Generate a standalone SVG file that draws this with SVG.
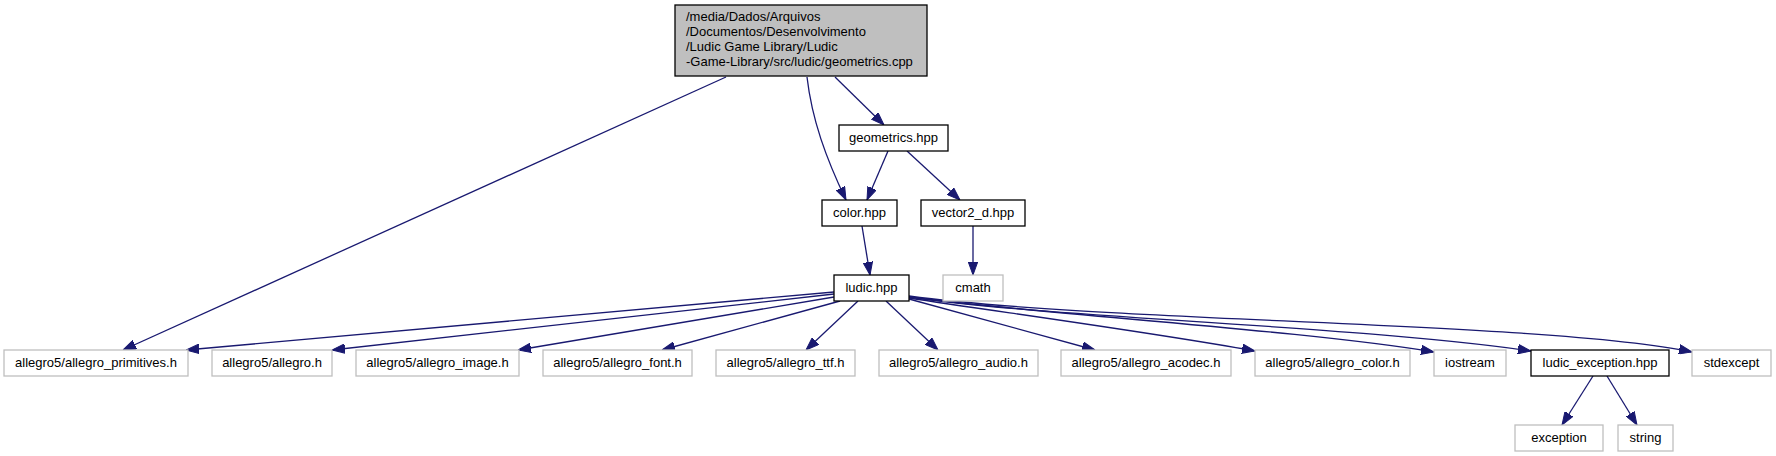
<svg xmlns="http://www.w3.org/2000/svg" width="1776" height="456" viewBox="0 0 1776 456">
<style>
  text { font-family: "Liberation Sans", Arial, sans-serif; font-size: 13px; fill: #000; }
  .c { text-anchor: middle; }
  .nb { fill: #fff; stroke: #000; stroke-width: 1.3; }
  .ng { fill: #fff; stroke: #bfbfbf; stroke-width: 1.3; }
  .nr { fill: #bfbfbf; stroke: #000; stroke-width: 1.3; }
  .e { fill: none; stroke: #191970; stroke-width: 1.3; marker-end: url(#ah); }
</style>
<defs>
  <marker id="ah" viewBox="0 0 13 10" refX="13" refY="5" markerWidth="13" markerHeight="10" orient="auto" markerUnits="userSpaceOnUse">
    <path d="M0,0.3 L13,5 L0,9.7 z" fill="#191970" stroke="#191970" stroke-width="1"/>
  </marker>
</defs>
<rect width="1776" height="456" fill="#fff"/>

<g id="edges">
  <path class="e" d="M726,77 L123,350"/>
  <path class="e" d="M807,77 C812,120 826,158 846,200"/>
  <path class="e" d="M835,77 L884,125"/>
  <path class="e" d="M888,151 L867,200"/>
  <path class="e" d="M907,151 L960,200"/>
  <path class="e" d="M862,226 L870,275"/>
  <path class="e" d="M973,226 L973,275"/>
  <path class="e" d="M834,292 L186,350"/>
  <path class="e" d="M834,294 L332,350"/>
  <path class="e" d="M834,297 L518,350"/>
  <path class="e" d="M840,301 L662,350"/>
  <path class="e" d="M858,301 L806,350"/>
  <path class="e" d="M886,301 L938,350"/>
  <path class="e" d="M909,299 L1095,350"/>
  <path class="e" d="M909,298 C1000,312 1150,332 1255,351"/>
  <path class="e" d="M909,297 C1050,315 1300,330 1434,352"/>
  <path class="e" d="M909,297 C1050,318 1350,325 1531,351"/>
  <path class="e" d="M909,296 C1100,322 1550,322 1692,352"/>
  <path class="e" d="M1593,376 L1562,425"/>
  <path class="e" d="M1607,376 L1637,425"/>
</g>

<g id="root">
  <rect class="nr" x="675" y="5" width="252" height="71"/>
  <text x="686" y="20.5">/media/Dados/Arquivos</text>
  <text x="686" y="35.5">/Documentos/Desenvolvimento</text>
  <text x="686" y="50.5">/Ludic Game Library/Ludic</text>
  <text x="686" y="65.5">-Game-Library/src/ludic/geometrics.cpp</text>
</g>
<g id="geometrics_hpp">
  <rect class="nb" x="839" y="125" width="109" height="26"/>
  <text class="c" x="893.5" y="142">geometrics.hpp</text>
</g>
<g id="color_hpp">
  <rect class="nb" x="822" y="200" width="75" height="26"/>
  <text class="c" x="859.5" y="217">color.hpp</text>
</g>
<g id="vector2_d_hpp">
  <rect class="nb" x="921" y="200" width="104" height="26"/>
  <text class="c" x="973" y="217">vector2_d.hpp</text>
</g>
<g id="ludic_hpp">
  <rect class="nb" x="834" y="275" width="75" height="26"/>
  <text class="c" x="871.5" y="292">ludic.hpp</text>
</g>
<g id="cmath">
  <rect class="ng" x="943" y="275" width="60" height="26"/>
  <text class="c" x="973" y="292">cmath</text>
</g>

<g id="allegro_primitives">
  <rect class="ng" x="4" y="350" width="184" height="26"/>
  <text class="c" x="96" y="367">allegro5/allegro_primitives.h</text>
</g>
<g id="allegro">
  <rect class="ng" x="212" y="350" width="120" height="26"/>
  <text class="c" x="272" y="367">allegro5/allegro.h</text>
</g>
<g id="allegro_image">
  <rect class="ng" x="356" y="350" width="163" height="26"/>
  <text class="c" x="437.5" y="367">allegro5/allegro_image.h</text>
</g>
<g id="allegro_font">
  <rect class="ng" x="543" y="350" width="149" height="26"/>
  <text class="c" x="617.5" y="367">allegro5/allegro_font.h</text>
</g>
<g id="allegro_ttf">
  <rect class="ng" x="716" y="350" width="139" height="26"/>
  <text class="c" x="785.5" y="367">allegro5/allegro_ttf.h</text>
</g>
<g id="allegro_audio">
  <rect class="ng" x="879" y="350" width="159" height="26"/>
  <text class="c" x="958.5" y="367">allegro5/allegro_audio.h</text>
</g>
<g id="allegro_acodec">
  <rect class="ng" x="1061" y="350" width="170" height="26"/>
  <text class="c" x="1146" y="367">allegro5/allegro_acodec.h</text>
</g>
<g id="allegro_color">
  <rect class="ng" x="1255" y="350" width="155" height="26"/>
  <text class="c" x="1332.5" y="367">allegro5/allegro_color.h</text>
</g>
<g id="iostream">
  <rect class="ng" x="1434" y="350" width="72" height="26"/>
  <text class="c" x="1470" y="367">iostream</text>
</g>
<g id="ludic_exception_hpp">
  <rect class="nb" x="1531" y="350" width="138" height="26"/>
  <text class="c" x="1600" y="367">ludic_exception.hpp</text>
</g>
<g id="stdexcept">
  <rect class="ng" x="1692" y="350" width="79" height="26"/>
  <text class="c" x="1731.5" y="367">stdexcept</text>
</g>
<g id="exception">
  <rect class="ng" x="1515" y="425" width="88" height="26"/>
  <text class="c" x="1559" y="442">exception</text>
</g>
<g id="string">
  <rect class="ng" x="1618" y="425" width="55" height="26"/>
  <text class="c" x="1645.5" y="442">string</text>
</g>
</svg>
